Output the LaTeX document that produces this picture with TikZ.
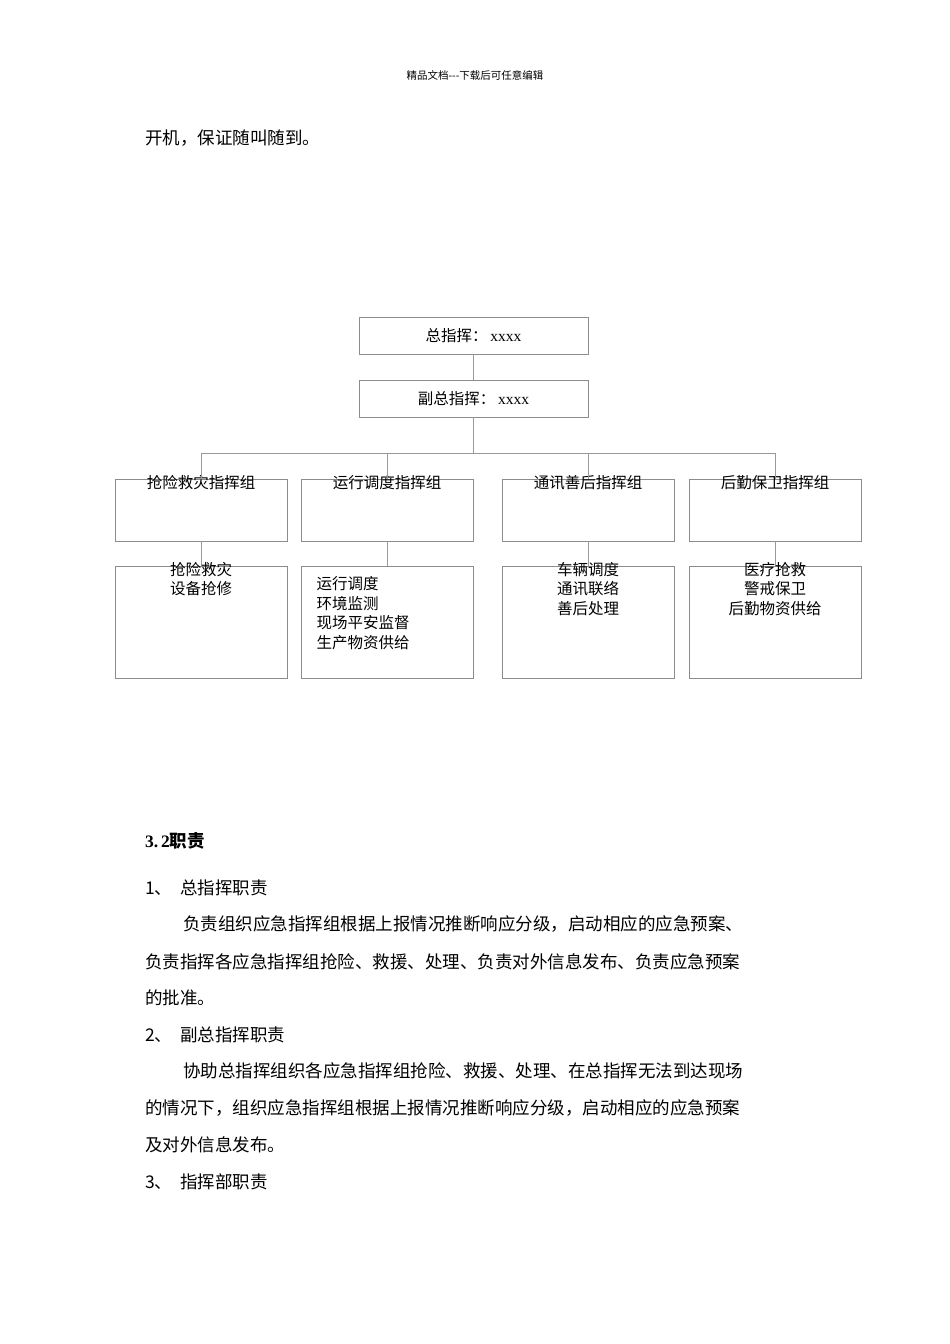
\documentclass[tikz,border=0pt]{standalone}
\usepackage{fontspec}
\setmainfont{Liberation Serif}
\newfontfamily\cjk{Noto Sans CJK SC}
\begin{document}
\begin{tikzpicture}[x=1pt,y=-1pt,
  box/.style={draw=black!45,line width=0.8pt,minimum width=#1,inner sep=0pt},
  ln/.style={draw=black!40,line width=0.8pt},
  ct/.style={font=\cjk\fontsize{15.5}{19.5}\selectfont,align=center},
  tx/.style={anchor=base west,inner sep=0pt,font=\cjk\fontsize{17.5}{20}\selectfont}]
\useasboundingbox[fill=white] (0,0) rectangle (950,1344);
\node[inner sep=0pt,font=\cjk\fontsize{10.5}{12}\selectfont] (hdr) at (475,75) {精品文档---下载后可任意编辑};
\node[tx] (l0) at (145,144) {开机，保证随叫随到。};
% chart
\node[box=229pt,minimum height=37pt] (top) at (473.5,335.5) {};
\node[ct] at (top) {总指挥：\,{\rmfamily xxxx}};
\node[box=229pt,minimum height=37pt] (sub) at (473.5,398.5) {};
\node[ct] at (sub) {副总指挥：\,{\rmfamily xxxx}};
\foreach \i/\x/\w/\t in {1/201/172/抢险救灾指挥组,2/387/172/运行调度指挥组,3/588/172/通讯善后指挥组,4/775/172/后勤保卫指挥组}{
  \node[box=\w pt,minimum height=62pt] (g\i) at (\x,510) {};
  \node[ct,anchor=north] at ([yshift=7pt]g\i.north) {\t};
  \node[box=\w pt,minimum height=112pt] (d\i) at (\x,622) {};
  \draw[ln] (g\i.south) -- (d\i.north);
}
\coordinate (bus) at (473.5,453);
\draw[ln] (top.south) -- (sub.south|-sub.north);
\draw[ln] (sub.south) -- (bus);
\draw[ln] (g1.north|-bus) -- (g4.north|-bus);
\foreach \i in {1,...,4}{\draw[ln] (g\i.north|-bus) -- (g\i.north);}
\node[ct,anchor=north] at ([yshift=7pt]d1.north) {抢险救灾\\设备抢修};
\node[ct,anchor=north west,align=left] at (313,573) {运行调度\\环境监测\\现场平安监督\\生产物资供给};
\node[ct,anchor=north] at ([yshift=7pt]d3.north) {车辆调度\\通讯联络\\善后处理};
\node[ct,anchor=north] at ([yshift=7pt]d4.north) {医疗抢救\\警戒保卫\\后勤物资供给};
% text
\node[tx,font=\bfseries\fontsize{17.5}{20}\selectfont] (s) at (145,847) {3.\,2{\cjk\bfseries 职责}};
\node[tx] at (145,894) {1、\ \ 总指挥职责};
\node[tx] at (183,930) {负责组织应急指挥组根据上报情况推断响应分级，启动相应的应急预案、};
\node[tx] at (145,968) {负责指挥各应急指挥组抢险、救援、处理、负责对外信息发布、负责应急预案};
\node[tx] at (145,1004) {的批准。};
\node[tx] at (145,1041) {2、\ \ 副总指挥职责};
\node[tx] at (183,1077) {协助总指挥组织各应急指挥组抢险、救援、处理、在总指挥无法到达现场};
\node[tx] at (145,1114) {的情况下，组织应急指挥组根据上报情况推断响应分级，启动相应的应急预案};
\node[tx] at (145,1151) {及对外信息发布。};
\node[tx] at (145,1188) {3、\ \ 指挥部职责};
\end{tikzpicture}
\end{document}
